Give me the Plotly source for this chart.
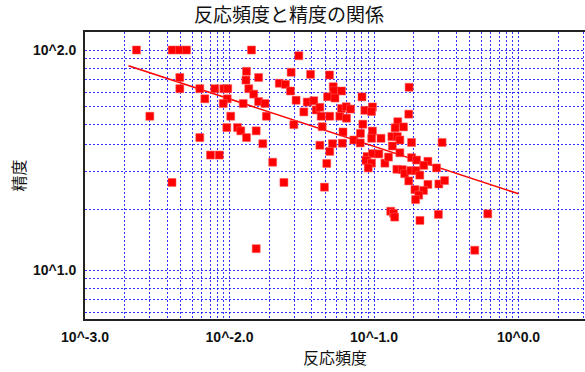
import plotly.graph_objects as go

# ---- data ----
freq = [0.00227, 0.00401, 0.00451, 0.00504, 0.0142, 0.0302, 0.0131, 0.0130, 0.0159, 0.00453,
        0.00453, 0.00623, 0.00791, 0.00913, 0.00973, 0.0136, 0.0147, 0.0159, 0.0176, 0.00675,
        0.00964, 0.00905, 0.01244, 0.00281, 0.0102, 0.0180, 0.00958, 0.01136, 0.01197, 0.0131,
        0.0153, 0.0170, 0.00623, 0.00739, 0.00849, 0.00400, 0.0153, 0.0267, 0.0364, 0.0492,
        0.0221, 0.0244, 0.0264, 0.0522, 0.0527, 0.0596, 0.0289, 0.0345, 0.0383, 0.0398,
        0.0422, 0.0327, 0.0431, 0.0494, 0.0477, 0.0537, 0.0580, 0.0596, 0.0642, 0.0688,
        0.0645, 0.0279, 0.0438, 0.0610, 0.0725, 0.0806, 0.0837, 0.0826, 0.0864, 0.0976,
        0.0961, 0.0976, 0.0964, 0.1118, 0.0603, 0.0516, 0.0422, 0.0494, 0.0471, 0.0803,
        0.175, 0.174, 0.146, 0.140, 0.160, 0.133, 0.145, 0.151, 0.134, 0.182,
        0.296, 0.0895, 0.0976, 0.108, 0.0880, 0.0961, 0.0912, 0.119, 0.126, 0.151,
        0.182, 0.197, 0.236, 0.221, 0.271, 0.144, 0.157, 0.163, 0.180, 0.195,
        0.2075, 0.174, 0.236, 0.220, 0.192, 0.204, 0.194, 0.281, 0.308, 0.1305,
        0.1365, 0.139, 0.208, 0.279, 0.613, 0.498, 0.0199, 0.0238, 0.0454]

precision = [100, 100, 100, 100, 100, 94.2, 80, 73, 75, 75,
             66.7, 66.7, 66.7, 66.7, 66.7, 66.7, 63, 58.3, 57.1, 60,
             60, 57.1, 57.1, 50, 50, 50, 44.4, 44.4, 42.9, 40,
             42.9, 37.5, 40, 33.3, 33.3, 25, 12.5, 79.2, 77.5, 77.0,
             70.6, 69.8, 65.1, 68.1, 65.3, 65.1, 59.1, 58.0, 58.8, 53.4,
             54.9, 52.3, 50, 50, 61.3, 60.5, 50, 54.2, 55.2, 53.9,
             49.0, 45.8, 44.8, 42.4, 39.0, 41.8, 46.0, 61.2, 53.2, 55.1,
             52.5, 42.8, 39.7, 39.7, 37.7, 37.5, 36.9, 34.6, 30.5, 37.8,
             67.7, 51.1, 47.2, 44.3, 44.7, 40.4, 40.4, 39.0, 36.6, 38.0,
             38.0, 32.8, 33.8, 33.7, 31.5, 30.6, 29.1, 30.6, 32.6, 34.1,
             32.4, 31.6, 31.2, 29.9, 29.1, 28.7, 28.6, 27.4, 28.3, 28.3,
             27.0, 25.4, 24.5, 23.0, 23.2, 21.9, 20.9, 24.6, 25.5, 18.5,
             18.1, 17.4, 16.8, 17.9, 18.0, 12.3, 30.9, 25, 23.8]

trend_x = [0.002, 1.0]
trend_y = [84.8, 22.2]

x_tickvals = [0.001, 0.01, 0.1, 1.0]
x_ticktext = ["10^-3.0", "10^-2.0", "10^-1.0", "10^0.0"]
y_tickvals = [10, 100]
y_ticktext = ["10^1.0", "10^2.0"]

title_text = "反応頻度と精度の関係"
x_title = "反応頻度"
y_title = "精度"

# ---- styling ----
RED = "#ff0000"
GRID = "rgba(0,0,255,0.8)"
# minor grid positions inside a decade (in decades), as drawn by the original
minor_offsets = [0.276, 0.447, 0.570, 0.662, 0.742, 0.809, 0.867, 0.915, 0.960]
x_minor = [10 ** (n + d) for n in range(-3, 1) for d in minor_offsets]
y_minor = [10 ** (n + d) for n in range(0, 3) for d in minor_offsets]

fig = go.Figure()
fig.add_trace(go.Scatter(
    x=trend_x, y=trend_y, mode="lines",
    line=dict(color=RED, width=1.5), showlegend=False, hoverinfo="skip"))
fig.add_trace(go.Scatter(
    x=freq, y=precision, mode="markers",
    marker=dict(symbol="square", size=8, color=RED,
                line=dict(color="rgba(255,90,90,0.55)", width=1)),
    showlegend=False))

tickfont = dict(family="Liberation Sans, Arial, sans-serif", size=14, color="#111111", weight="bold")
cjk = "Noto Sans CJK JP, sans-serif"

fig.update_layout(
    width=585, height=372,
    margin=dict(l=85, r=0, t=32, b=53),
    paper_bgcolor="white", plot_bgcolor="white",
    title=dict(text=title_text, font=dict(family=cjk, size=19, color="#111111"),
               xref="container", x=0.494, xanchor="center",
               yref="container", y=1 - 15 / 372, yanchor="middle"),
    xaxis=dict(type="log", range=[-3, -3 + 500 / 144.5],
               tickvals=x_tickvals, ticktext=x_ticktext, tickfont=tickfont,
               ticks="outside", ticklen=4, tickcolor="rgba(0,0,0,0)",
               showline=True, linecolor="#222222", linewidth=2, mirror=True,
               showgrid=True, gridcolor=GRID, griddash="2px,2px", gridwidth=1,
               minor=dict(tickvals=x_minor, showgrid=True, gridcolor=GRID,
                          griddash="2px,2px", gridwidth=1, ticks=""),
               zeroline=False),
    yaxis=dict(type="log", range=[1 - 49 / 220, 2 + 18 / 220],
               tickvals=y_tickvals, ticktext=y_ticktext, tickfont=tickfont,
               ticks="outside", ticklen=4, tickcolor="rgba(0,0,0,0)",
               showline=True, linecolor="#222222", linewidth=2,
               showgrid=True, gridcolor=GRID, griddash="2px,2px", gridwidth=1,
               minor=dict(tickvals=y_minor, showgrid=True, gridcolor=GRID,
                          griddash="2px,2px", gridwidth=1, ticks=""),
               zeroline=False),
    annotations=[
        dict(text=x_title, xref="paper", yref="paper", x=0.5, y=-(356.5 - 319) / 287,
             xanchor="center", yanchor="middle", showarrow=False,
             font=dict(family=cjk, size=16, color="#111111")),
        dict(text=y_title, xref="paper", yref="paper", x=(17 - 85) / 500, y=0.5,
             xanchor="center", yanchor="middle", showarrow=False, textangle=-90,
             font=dict(family=cjk, size=16, color="#111111")),
    ],
)

fig.write_html("out.html", config={"displayModeBar": False},
               post_script="document.body.style.margin='0px';document.body.style.overflow='hidden';")
